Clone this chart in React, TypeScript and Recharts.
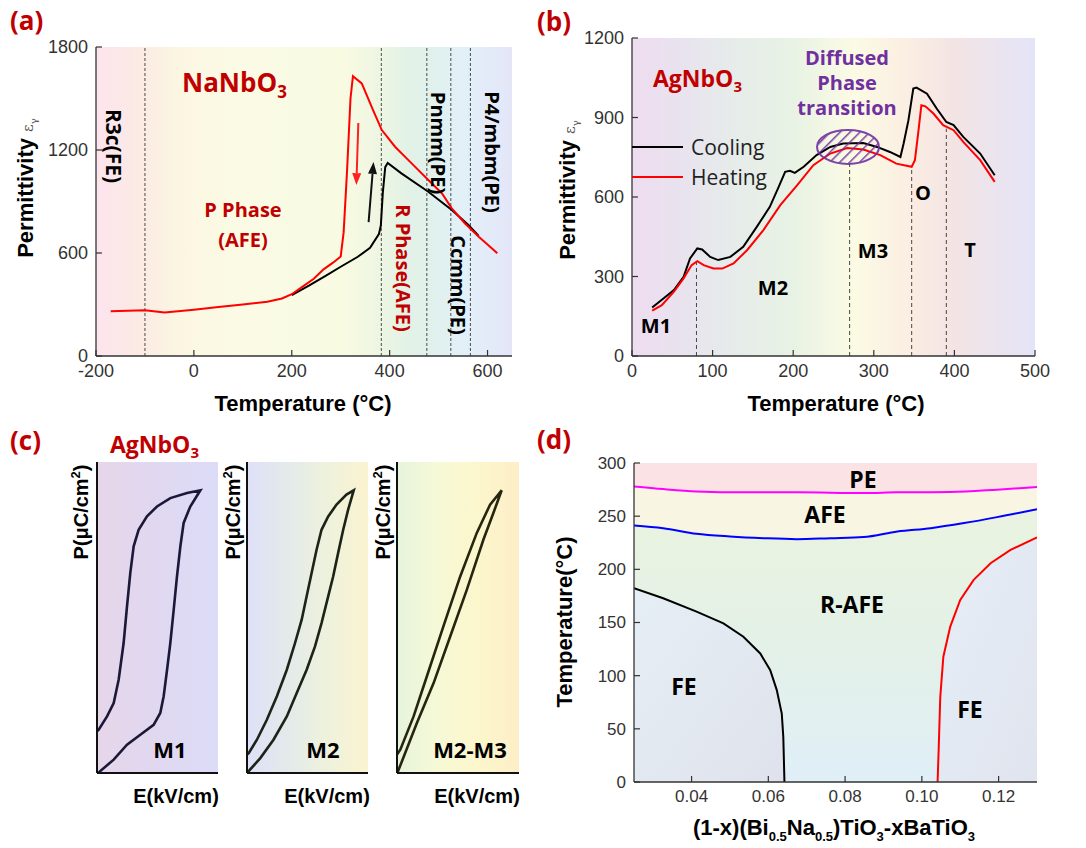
import React from 'react';
import {
  ComposedChart, Line, Area, XAxis, YAxis,
  ReferenceArea, ReferenceLine, ReferenceDot,
} from 'recharts';

// ================= DATA =================
// (a) NaNbO3 permittivity vs temperature
const aRedT = [-170, -100, -60, 0, 50, 100, 150, 180, 200, 220, 245, 265, 285, 300, 306, 313, 320, 325, 343, 365, 384, 411, 445, 479, 507, 527, 554, 582, 600, 620];
const aRedV = [260, 266, 253, 270, 285, 300, 316, 335, 360, 400, 450, 505, 545, 580, 720, 1080, 1500, 1630, 1588, 1440, 1316, 1219, 1122, 1025, 947, 860, 772, 695, 650, 598];
const aBlackT = [200, 235, 270, 300, 335, 360, 378, 382, 386, 391, 396, 424, 479, 527, 561, 582];
const aBlackV = [355, 410, 468, 520, 578, 630, 710, 760, 950, 1100, 1124, 1064, 957, 850, 763, 700];
const aPhaseLines = [-100, 383, 476, 525, 565];
const aXTicks = [-200, 0, 200, 400, 600];
const aXMinor = [-100, 100, 300, 500];
const aYTicks = [0, 600, 1200, 1800];
const aYMinor = [300, 900, 1500];
const aRedArrowT = [336, 332];
const aRedArrowV = [1357, 996];
const aBlackArrowT = [357, 367];
const aBlackArrowV = [780, 1130];

// (b) AgNbO3 permittivity vs temperature
const bCoolT = [25, 39, 52, 64, 72, 81, 87, 97, 107, 122, 138, 155, 171, 182, 190, 196, 202, 213, 229, 246, 262, 287, 304, 320, 333, 337, 343, 349, 353, 366, 378, 390, 399, 411, 432, 450];
const bCoolV = [183, 217, 249, 299, 368, 406, 402, 374, 362, 374, 412, 488, 563, 638, 695, 699, 691, 714, 758, 789, 802, 804, 789, 770, 751, 802, 890, 1009, 1013, 990, 934, 883, 871, 827, 764, 682];
const bHeatT = [25, 37, 52, 64, 74, 81, 89, 101, 112, 126, 143, 163, 184, 205, 225, 246, 267, 287, 308, 328, 347, 351, 355, 359, 364, 374, 386, 399, 411, 432, 450];
const bHeatV = [171, 192, 243, 293, 343, 358, 343, 330, 330, 349, 400, 475, 569, 645, 720, 764, 785, 779, 758, 726, 714, 739, 839, 946, 942, 915, 871, 852, 808, 739, 657];
const bPhaseLineT = [80, 270, 347, 390];
const bPhaseLineTop = [355, 726, 714, 858];
const bEllipseT = 268;
const bEllipseV = 789;
const bXTicks = [0, 100, 200, 300, 400, 500];
const bXMinor = [50, 150, 250, 350, 450];
const bYTicks = [0, 300, 600, 900, 1200];
const bYMinor = [150, 450, 750, 1050];

// (c) P-E loops (normalised E, P)
const c1E = [0.014, 0.138, 0.248, 0.358, 0.468, 0.523, 0.551, 0.579, 0.606, 0.634, 0.661, 0.689, 0.716, 0.771, 0.854, 0.744, 0.606, 0.496, 0.413, 0.344, 0.303, 0.275, 0.248, 0.220, 0.179, 0.138, 0.083, 0.014, 0.0];
const c1P = [0.002, 0.043, 0.091, 0.123, 0.155, 0.193, 0.247, 0.332, 0.418, 0.525, 0.632, 0.729, 0.804, 0.857, 0.909, 0.900, 0.884, 0.857, 0.825, 0.782, 0.729, 0.643, 0.536, 0.418, 0.300, 0.225, 0.182, 0.139, 0.134];
const c2E = [0.005, 0.110, 0.219, 0.329, 0.411, 0.493, 0.562, 0.616, 0.671, 0.712, 0.753, 0.795, 0.836, 0.882, 0.822, 0.740, 0.671, 0.616, 0.575, 0.534, 0.493, 0.452, 0.397, 0.329, 0.247, 0.164, 0.082, 0.014, 0.0];
const c2P = [0.002, 0.048, 0.107, 0.182, 0.257, 0.332, 0.407, 0.482, 0.568, 0.632, 0.707, 0.782, 0.847, 0.909, 0.895, 0.863, 0.825, 0.782, 0.718, 0.643, 0.568, 0.493, 0.418, 0.332, 0.247, 0.171, 0.107, 0.064, 0.059];
const c3E = [0.005, 0.163, 0.300, 0.436, 0.572, 0.708, 0.790, 0.858, 0.763, 0.654, 0.518, 0.381, 0.245, 0.136, 0.027, 0.0];
const c3P = [0.002, 0.161, 0.289, 0.439, 0.589, 0.750, 0.836, 0.909, 0.863, 0.772, 0.632, 0.472, 0.311, 0.182, 0.075, 0.059];

// (d) phase diagram of (1-x)BNT-xBT
const dPeX = [0.025, 0.0326, 0.0413, 0.0535, 0.0674, 0.0848, 0.0936, 0.1074, 0.1196, 0.130];
const dPeY = [278, 275.5, 273.3, 272.4, 272.4, 271.7, 272.4, 272.7, 274.9, 277.4];
const dAfeX = [0.025, 0.0326, 0.0413, 0.050, 0.0587, 0.0674, 0.0761, 0.0848, 0.0936, 0.1023, 0.1110, 0.1196, 0.130];
const dAfeY = [241.3, 238.7, 233.4, 230.9, 229.3, 228.4, 229.3, 230.3, 235.6, 238.7, 243.5, 249.1, 256.6];
const dFeLX = [0.025, 0.0326, 0.0413, 0.0483, 0.0535, 0.0579, 0.0605, 0.0622, 0.0635, 0.0639, 0.0642];
const dFeLY = [182.2, 172.8, 160.2, 149.2, 136.6, 120.9, 105.2, 86.4, 64.4, 42.4, 0];
const dFeRX = [0.1041, 0.1044, 0.1048, 0.1056, 0.1074, 0.1100, 0.1135, 0.1179, 0.1231, 0.130];
const dFeRY = [0, 33, 80.1, 117.8, 146.1, 171.2, 190.1, 205.8, 218.3, 230];
const dTopX = [0.025, 0.130];
const dTopY = [300, 300];
const dXTicks = [0.04, 0.06, 0.08, 0.10, 0.12];
const dXMinor = [0.03, 0.05, 0.07, 0.09, 0.11, 0.13];
const dYTicks = [0, 50, 100, 150, 200, 250, 300];
const dYMinor = [25, 75, 125, 175, 225, 275];

// ================= HELPERS =================
const zip = (xs: number[], ys: number[]) => xs.map((x, i) => ({ x, y: ys[i] }));
const AX = '#333';
const TICKFONT = "'Liberation Sans', Arial, sans-serif";
const ANN = "'Open Sans', sans-serif";

const makeTick = (side: 'bottom' | 'left', fontSize: number, fmt?: (v: number) => string) => (p: any) => {
  const v = p.payload?.value;
  const label = fmt ? fmt(v) : String(v);
  return (
    <text
      x={p.x}
      y={p.y}
      dy={side === 'bottom' ? '0.72em' : '0.35em'}
      textAnchor={side === 'bottom' ? 'middle' : 'end'}
      fontSize={fontSize}
      fontFamily={TICKFONT}
      fill="#333"
    >
      {label}
    </text>
  );
};

function frameAxes(
  xd: [number, number], yd: [number, number],
  xMaj: number[], xMin: number[], yMaj: number[], yMin: number[],
  fontSize: number, xFmt?: (v: number) => string,
) {
  const c = { type: 'number' as const, allowDataOverflow: true };
  const line = { stroke: AX, strokeWidth: 1.3 };
  const tl = { stroke: AX, strokeWidth: 1.2 };
  return [
    <XAxis key="xbm" xAxisId="xbm" orientation="bottom" mirror height={0} {...c} domain={xd} ticks={xMin} interval={0} tick={false} tickSize={3} tickLine={tl} axisLine={false} />,
    <XAxis key="xt" xAxisId="xt" orientation="top" mirror height={0} {...c} domain={xd} ticks={xMaj} interval={0} tick={false} tickSize={6} tickLine={tl} axisLine={line} />,
    <XAxis key="xtm" xAxisId="xtm" orientation="top" mirror height={0} {...c} domain={xd} ticks={xMin} interval={0} tick={false} tickSize={3} tickLine={tl} axisLine={false} />,
    <YAxis key="ylm" yAxisId="ylm" orientation="left" mirror width={0} {...c} domain={yd} ticks={yMin} interval={0} tick={false} tickSize={3} tickLine={tl} axisLine={false} />,
    <YAxis key="yr" yAxisId="yr" orientation="right" mirror width={0} {...c} domain={yd} ticks={yMaj} interval={0} tick={false} tickSize={6} tickLine={tl} axisLine={line} />,
    <YAxis key="yrm" yAxisId="yrm" orientation="right" mirror width={0} {...c} domain={yd} ticks={yMin} interval={0} tick={false} tickSize={3} tickLine={tl} axisLine={false} />,
    <XAxis key="x0" xAxisId={0} dataKey="x" orientation="bottom" height={30} {...c} domain={xd} ticks={xMaj} interval={0} tickSize={-6} tickMargin={14} tickLine={tl} axisLine={line} tick={makeTick('bottom', fontSize, xFmt)} />,
    <YAxis key="y0" yAxisId={0} dataKey="y" orientation="left" width={60} {...c} domain={yd} ticks={yMaj} interval={0} tickSize={-6} tickMargin={14} tickLine={tl} axisLine={line} tick={makeTick('left', fontSize)} />,
  ];
}

const arrowShape = (color: string) => (p: any) => {
  const { x1, y1, x2, y2 } = p;
  const ang = Math.atan2(y2 - y1, x2 - x1);
  const L = 12, W = 4.5;
  const bx = x2 - L * Math.cos(ang), by = y2 - L * Math.sin(ang);
  const px = -Math.sin(ang) * W, py = Math.cos(ang) * W;
  return (
    <g>
      <line x1={x1} y1={y1} x2={bx} y2={by} stroke={color} strokeWidth={2} />
      <polygon points={`${x2},${y2} ${bx + px},${by + py} ${bx - px},${by - py}`} fill={color} />
    </g>
  );
};

const ellipseShape = (p: any) => (
  <g>
    <ellipse cx={p.cx} cy={p.cy} rx={31} ry={17} fill="url(#hatch)" stroke="#7030a0" strokeWidth={2} opacity={0.9} />
  </g>
);

const Pos: React.FC<{ l: number; t: number; children: React.ReactNode }> = ({ l, t, children }) => (
  <div style={{ position: 'absolute', left: l, top: t }}>{children}</div>
);

// ================= PANELS =================
function PanelA() {
  const xd: [number, number] = [-200, 650];
  const yd: [number, number] = [0, 1800];
  return (
    <ComposedChart width={496} height={359} margin={{ top: 15, right: 20, bottom: 5, left: 0 }}>
      <defs>
        <linearGradient id="gA" x1="0" y1="0" x2="1" y2="0">
          <stop offset="0" stopColor="#fce4ee" />
          <stop offset="0.1" stopColor="#fbeae4" />
          <stop offset="0.2" stopColor="#fbf6e2" />
          <stop offset="0.35" stopColor="#fbfbe5" />
          <stop offset="0.6" stopColor="#f8fae2" />
          <stop offset="0.68" stopColor="#eef6e2" />
          <stop offset="0.75" stopColor="#e2f2e6" />
          <stop offset="0.82" stopColor="#e0f1ef" />
          <stop offset="0.88" stopColor="#e2f0f8" />
          <stop offset="1" stopColor="#e4e6f8" />
        </linearGradient>
      </defs>
      {frameAxes(xd, yd, aXTicks, aXMinor, aYTicks, aYMinor, 18)}
      <ReferenceArea x1={xd[0]} x2={xd[1]} y1={yd[0]} y2={yd[1]} fill="url(#gA)" fillOpacity={1} stroke="none" />
      {aPhaseLines.map((t) => (
        <ReferenceLine key={t} x={t} stroke="#222" strokeDasharray="3 2" strokeWidth={0.8} />
      ))}
      <Line data={zip(aBlackT, aBlackV)} dataKey="y" stroke="#000" strokeWidth={2} dot={false} isAnimationActive={false} />
      <Line data={zip(aRedT, aRedV)} dataKey="y" stroke="#ff0000" strokeWidth={2} dot={false} isAnimationActive={false} />
      <ReferenceLine segment={[{ x: aRedArrowT[0], y: aRedArrowV[0] }, { x: aRedArrowT[1], y: aRedArrowV[1] }]} shape={arrowShape('#ff2020')} />
      <ReferenceLine segment={[{ x: aBlackArrowT[0], y: aBlackArrowV[0] }, { x: aBlackArrowT[1], y: aBlackArrowV[1] }]} shape={arrowShape('#111')} />
    </ComposedChart>
  );
}

function PanelB() {
  const xd: [number, number] = [0, 500];
  const yd: [number, number] = [0, 1200];
  return (
    <ComposedChart width={483} height={368} margin={{ top: 15, right: 20, bottom: 5, left: 0 }}>
      <defs>
        <linearGradient id="gB" x1="0" y1="0" x2="1" y2="0">
          <stop offset="0" stopColor="#eedcf0" />
          <stop offset="0.14" stopColor="#e8e4ee" />
          <stop offset="0.25" stopColor="#e6ecea" />
          <stop offset="0.4" stopColor="#e8f2e4" />
          <stop offset="0.55" stopColor="#fbfbe4" />
          <stop offset="0.68" stopColor="#fbeee2" />
          <stop offset="0.8" stopColor="#f3e4e4" />
          <stop offset="1" stopColor="#e4e4f8" />
        </linearGradient>
        <pattern id="hatch" width="7" height="7" patternUnits="userSpaceOnUse" patternTransform="rotate(45)">
          <line x1="0" y1="0" x2="0" y2="7" stroke="#7030a0" strokeWidth="3" />
        </pattern>
      </defs>
      {frameAxes(xd, yd, bXTicks, bXMinor, bYTicks, bYMinor, 18)}
      <ReferenceArea x1={xd[0]} x2={xd[1]} y1={yd[0]} y2={yd[1]} fill="url(#gB)" fillOpacity={1} stroke="none" />
      {bPhaseLineT.map((t, i) => (
        <ReferenceLine key={t} segment={[{ x: t, y: 0 }, { x: t, y: bPhaseLineTop[i] }]} stroke="#333" strokeDasharray="4 3" strokeWidth={0.9} />
      ))}
      <Line data={zip(bCoolT, bCoolV)} dataKey="y" stroke="#000" strokeWidth={2} dot={false} isAnimationActive={false} />
      <Line data={zip(bHeatT, bHeatV)} dataKey="y" stroke="#ff0000" strokeWidth={2} dot={false} isAnimationActive={false} />
      <ReferenceDot x={bEllipseT} y={bEllipseV} shape={ellipseShape} />
    </ComposedChart>
  );
}

function Loop({ id, e, p, stroke, stops, w }: { id: string; e: number[]; p: number[]; stroke: string; stops: string[]; w: number }) {
  return (
    <ComposedChart width={w} height={322} margin={{ top: 5, right: 5, bottom: 5, left: 5 }}>
      <defs>
        <linearGradient id={id} x1="0" y1="0" x2="1" y2="0">
          {stops.map((s, i) => (
            <stop key={i} offset={i / (stops.length - 1)} stopColor={s} />
          ))}
        </linearGradient>
      </defs>
      <XAxis dataKey="x" type="number" domain={[0, 1]} allowDataOverflow height={1} tick={false} tickLine={false} axisLine={{ stroke: '#111', strokeWidth: 2 }} />
      <YAxis dataKey="y" type="number" domain={[0, 1]} allowDataOverflow width={1} tick={false} tickLine={false} axisLine={{ stroke: '#111', strokeWidth: 2 }} />
      <ReferenceArea x1={0} x2={1} y1={0} y2={1} fill={`url(#${id})`} fillOpacity={1} stroke="none" />
      <Line data={zip(e, p)} dataKey="y" stroke={stroke} strokeWidth={2.6} dot={false} isAnimationActive={false} />
    </ComposedChart>
  );
}

function PanelD() {
  const xd: [number, number] = [0.025, 0.13];
  const yd: [number, number] = [0, 300];
  return (
    <ComposedChart width={483} height={369} margin={{ top: 15, right: 20, bottom: 5, left: 0 }}>
      <defs>
        <linearGradient id="gDpe" x1="0" y1="0" x2="0" y2="1">
          <stop offset="0" stopColor="#fbe2e4" />
          <stop offset="1" stopColor="#fae8e4" />
        </linearGradient>
        <linearGradient id="gDr" x1="0" y1="0" x2="0" y2="1">
          <stop offset="0" stopColor="#eaf3e0" />
          <stop offset="0.45" stopColor="#e4f1e6" />
          <stop offset="1" stopColor="#e0eff8" />
        </linearGradient>
        <linearGradient id="gDl" x1="0" y1="0" x2="1" y2="1">
          <stop offset="0" stopColor="#e6eff5" />
          <stop offset="1" stopColor="#dfe2ec" />
        </linearGradient>
        <linearGradient id="gDrr" x1="1" y1="1" x2="0" y2="0">
          <stop offset="0" stopColor="#e0e4ee" />
          <stop offset="1" stopColor="#e6eef6" />
        </linearGradient>
      </defs>
      {frameAxes(xd, yd, dXTicks, dXMinor, dYTicks, dYMinor, 17, (v: number) => v.toFixed(2))}
      <Area data={zip(dTopX, dTopY)} dataKey="y" type="linear" stroke="none" fill="url(#gDpe)" fillOpacity={1} isAnimationActive={false} />
      <Area data={zip(dPeX, dPeY)} dataKey="y" type="linear" stroke="none" fill="#f8f6e2" fillOpacity={1} isAnimationActive={false} />
      <Area data={zip(dAfeX, dAfeY)} dataKey="y" type="linear" stroke="none" fill="url(#gDr)" fillOpacity={1} isAnimationActive={false} />
      <Area data={zip(dFeLX, dFeLY)} dataKey="y" type="linear" stroke="none" fill="url(#gDl)" fillOpacity={1} isAnimationActive={false} />
      <Area data={zip(dFeRX, dFeRY)} dataKey="y" type="linear" stroke="none" fill="url(#gDrr)" fillOpacity={1} isAnimationActive={false} />
      <Line data={zip(dPeX, dPeY)} dataKey="y" type="monotone" stroke="#ff00ff" strokeWidth={2} dot={false} isAnimationActive={false} />
      <Line data={zip(dAfeX, dAfeY)} dataKey="y" type="monotone" stroke="#0000ff" strokeWidth={2} dot={false} isAnimationActive={false} />
      <Line data={zip(dFeLX, dFeLY)} dataKey="y" type="linear" stroke="#000" strokeWidth={2} dot={false} isAnimationActive={false} />
      <Line data={zip(dFeRX, dFeRY)} dataKey="y" type="linear" stroke="#ff0000" strokeWidth={2} dot={false} isAnimationActive={false} />
    </ComposedChart>
  );
}

// ================= TEXT OVERLAY =================
const red = '#c00000';
const TT = { fontFamily: TICKFONT, fontWeight: 700, fontSize: 22, fill: '#000' } as const;
const AN = { fontFamily: ANN, fontWeight: 700 } as const;

function Sub({ children, size = 14, d = 6 }: { children: React.ReactNode; size?: number; d?: number }) {
  return <tspan fontSize={size} dy={d}>{children}</tspan>;
}

function Overlay() {
  const rot90 = (x: number, y: number) => `translate(${x},${y}) rotate(90)`;
  const rotm90 = (x: number, y: number) => `translate(${x},${y}) rotate(-90)`;
  return (
    <svg width={1086} height={848} style={{ position: 'absolute', left: 0, top: 0, pointerEvents: 'none' }}>
      {/* panel letters */}
      <text x={10} y={30} {...AN} fontSize={26} fill={red}>(a)</text>
      <text x={537} y={31} {...AN} fontSize={26} fill={red}>(b)</text>
      <text x={10} y={450} {...AN} fontSize={26} fill={red}>(c)</text>
      <text x={537} y={449} {...AN} fontSize={26} fill={red}>(d)</text>

      {/* (a) */}
      <text x={182} y={92} {...AN} fontSize={26} fill={red}>NaNbO<Sub size={17} d={6}>3</Sub></text>
      <text x={243} y={217} {...AN} fontSize={20} fill={red} textAnchor="middle">P Phase</text>
      <text x={243} y={247} {...AN} fontSize={20} fill={red} textAnchor="middle">(AFE)</text>
      <text transform={rot90(106, 146)} {...AN} fontSize={21} fill="#000" textAnchor="middle">R3c(FE)</text>
      <text transform={rot90(396, 268)} {...AN} fontSize={20} fill={red} textAnchor="middle">R Phase(AFE)</text>
      <text transform={rot90(431, 143)} {...AN} fontSize={20} fill="#000" textAnchor="middle">Pnmm(PE)</text>
      <text transform={rot90(451, 285)} {...AN} fontSize={20} fill="#000" textAnchor="middle">Ccmm(PE)</text>
      <text transform={rot90(485, 152)} {...AN} fontSize={20} fill="#000" textAnchor="middle">P4/mbm(PE)</text>
      <text x={303} y={411} {...TT} textAnchor="middle">Temperature (°C)</text>
      <text transform={rotm90(33, 188)} {...TT} textAnchor="middle">
        Permittivity <tspan fontFamily="'DejaVu Serif', serif" fontWeight={400} fontSize={15} fill="#555">ε</tspan>
        <tspan fontFamily="'DejaVu Serif', serif" fontWeight={400} fontSize={10} fill="#555" dy={4}>γ</tspan>
      </text>

      {/* (b) */}
      <text x={653} y={87} {...AN} fontSize={23} fill={red}>AgNbO<Sub size={15} d={5}>3</Sub></text>
      <text x={847} y={65} {...AN} fontSize={20} fill="#7030a0" textAnchor="middle">Diffused</text>
      <text x={847} y={90} {...AN} fontSize={20} fill="#7030a0" textAnchor="middle">Phase</text>
      <text x={847} y={115} {...AN} fontSize={20} fill="#7030a0" textAnchor="middle">transition</text>
      <line x1={632} y1={147} x2={683} y2={147} stroke="#000" strokeWidth={2} />
      <line x1={632} y1={177} x2={683} y2={177} stroke="#ff0000" strokeWidth={2} />
      <text x={691} y={155} fontFamily={ANN} fontSize={21} fill="#222">Cooling</text>
      <text x={691} y={185} fontFamily={ANN} fontSize={21} fill="#222">Heating</text>
      <text x={656} y={333} {...AN} fontSize={20} textAnchor="middle">M1</text>
      <text x={773} y={295} {...AN} fontSize={20} textAnchor="middle">M2</text>
      <text x={873} y={258} {...AN} fontSize={20} textAnchor="middle">M3</text>
      <text x={923} y={200} {...AN} fontSize={20} textAnchor="middle">O</text>
      <text x={970} y={257} {...AN} fontSize={20} textAnchor="middle">T</text>
      <text x={836} y={411} {...TT} textAnchor="middle">Temperature (°C)</text>
      <text transform={rotm90(575, 190)} {...TT} textAnchor="middle">
        Permittivity <tspan fontFamily="'DejaVu Serif', serif" fontWeight={400} fontSize={15} fill="#555">ε</tspan>
        <tspan fontFamily="'DejaVu Serif', serif" fontWeight={400} fontSize={10} fill="#555" dy={4}>γ</tspan>
      </text>

      {/* (c) */}
      <text x={110} y={453} {...AN} fontSize={23} fill={red}>AgNbO<Sub size={15} d={5}>3</Sub></text>
      {[88, 240, 390].map((x) => (
        <text key={x} transform={rotm90(x, 512)} {...TT} fontSize={20} textAnchor="middle">
          P(μC/cm<tspan fontSize={13} dy={-8}>2</tspan><tspan dy={8}>)</tspan>
        </text>
      ))}
      {[176, 327, 477].map((x) => (
        <text key={x} x={x} y={803} {...TT} fontSize={20} textAnchor="middle">E(kV/cm)</text>
      ))}
      <text x={170} y={758} {...AN} fontSize={22} textAnchor="middle">M1</text>
      <text x={323} y={758} {...AN} fontSize={22} textAnchor="middle">M2</text>
      <text x={470} y={758} {...AN} fontSize={22} textAnchor="middle">M2-M3</text>

      {/* (d) */}
      <text x={863} y={488} {...AN} fontSize={23} textAnchor="middle">PE</text>
      <text x={825} y={523} {...AN} fontSize={23} textAnchor="middle">AFE</text>
      <text x={852} y={613} {...AN} fontSize={23} textAnchor="middle">R-AFE</text>
      <text x={684} y={695} {...AN} fontSize={23} textAnchor="middle">FE</text>
      <text x={970} y={718} {...AN} fontSize={23} textAnchor="middle">FE</text>
      <text transform={rotm90(572, 622)} {...TT} textAnchor="middle">Temperature(°C)</text>
      <text x={834} y={835} {...TT} textAnchor="middle">
        (1-x)(Bi<Sub size={13} d={6}>0.5</Sub><tspan dy={-6}>Na</tspan><Sub size={13} d={6}>0.5</Sub>
        <tspan dy={-6}>)TiO</tspan><Sub size={13} d={6}>3</Sub><tspan dy={-6}>-xBaTiO</tspan><Sub size={13} d={6}>3</Sub>
      </text>
    </svg>
  );
}

export default function App() {
  return (
    <div style={{ position: 'absolute', left: 0, top: 0, width: 1086, height: 848, background: '#fff', overflow: 'hidden' }}>
      <Pos l={36} t={32}><PanelA /></Pos>
      <Pos l={572} t={23}><PanelB /></Pos>
      <Pos l={91} t={457}>
        <Loop id="gC1" e={c1E} p={c1P} stroke="#1b1838" stops={['#e6d6ea', '#e0d8f0', '#dcdcf8']} w={132} />
      </Pos>
      <Pos l={241} t={457}>
        <Loop id="gC2" e={c2E} p={c2P} stroke="#1c2418" stops={['#dfe0f8', '#e3eaea', '#eef2dc', '#fbf3d0']} w={132} />
      </Pos>
      <Pos l={391} t={457}>
        <Loop id="gC3" e={c3E} p={c3P} stroke="#262610" stops={['#e6f4dc', '#f6f9d6', '#fcf6cc', '#fdeec8']} w={133} />
      </Pos>
      <Pos l={574} t={448}><PanelD /></Pos>
      <Overlay />
    </div>
  );
}
